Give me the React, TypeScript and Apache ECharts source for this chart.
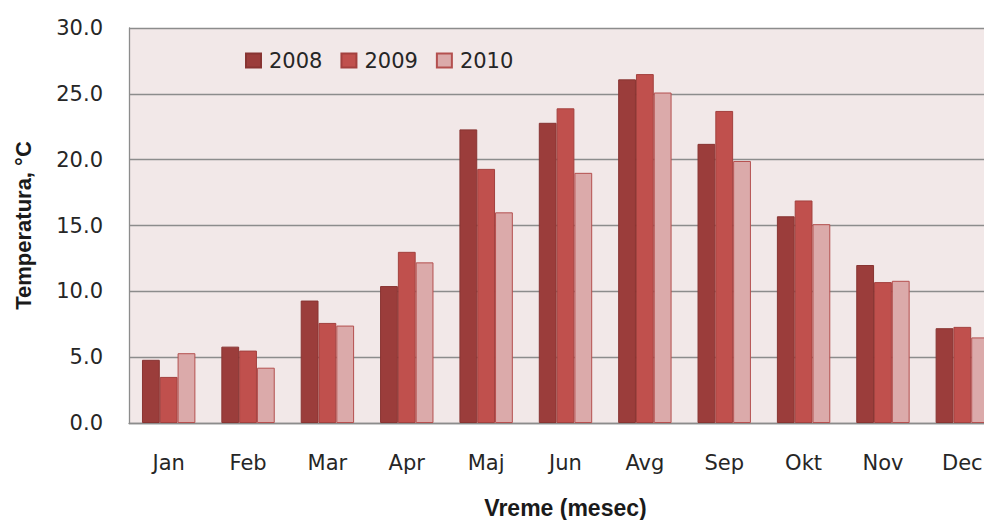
import React, { useEffect, useRef } from "react";
import * as echarts from "echarts";

const months = ["Jan", "Feb", "Mar", "Apr", "Maj", "Jun", "Avg", "Sep", "Okt", "Nov", "Dec"];
const s2008 = [4.8, 5.8, 9.3, 10.4, 22.3, 22.8, 26.1, 21.2, 15.7, 12.0, 7.2];
const s2009 = [3.5, 5.5, 7.6, 13.0, 19.3, 23.9, 26.5, 23.7, 16.9, 10.7, 7.3];
const s2010 = [5.3, 4.2, 7.4, 12.2, 16.0, 19.0, 25.1, 19.9, 15.1, 10.8, 6.5];
const seriesNames = ["2008", "2009", "2010"];
const yTicks = { min: 0, max: 30, interval: 5 };

export default function App() {
  const ref = useRef<HTMLDivElement>(null);
  useEffect(() => {
    document.body.style.margin = "0";
    const chart = echarts.init(ref.current!, null, { renderer: "svg" });
    const fills = ["#9b3d3b", "#c0504d", "#dbaaaa"];
    const borders = ["#883432", "#a3403e", "#b4504f"];
    const data = [s2008, s2009, s2010];
    chart.setOption({
      animation: false,
      backgroundColor: "#ffffff",
      grid: {
        show: true,
        left: 129,
        top: 28,
        width: 873,
        height: 395,
        containLabel: false,
        outerBoundsMode: "none",
        backgroundColor: "#f2e8e8",
        borderWidth: 0,
      },
      legend: {
        left: 245,
        top: 50,
        padding: 0,
        itemWidth: 15,
        itemHeight: 14,
        itemGap: 18,
        icon: "rect",
        textStyle: { fontFamily: "DejaVu Sans", fontSize: 21, color: "#262626", padding: [0, 0, 0, 3] },
        data: seriesNames,
      },
      xAxis: {
        type: "category",
        data: months,
        name: "Vreme (mesec)",
        nameLocation: "middle",
        nameGap: 73,
        nameTextStyle: { fontFamily: "Liberation Sans", fontWeight: "bold", fontSize: 23, color: "#1a1a1a" },
        axisLine: { show: true, lineStyle: { color: "#8c8c8c", width: 1.3 } },
        axisTick: { show: false },
        axisLabel: { margin: 29, fontFamily: "DejaVu Sans", fontSize: 21, color: "#262626" },
        splitLine: { show: false },
      },
      yAxis: {
        type: "value",
        min: yTicks.min,
        max: yTicks.max,
        interval: yTicks.interval,
        name: "Temperatura, °C",
        nameLocation: "middle",
        nameGap: 95,
        nameRotate: 90,
        nameTextStyle: { fontFamily: "Liberation Sans", fontWeight: "bold", fontSize: 22, color: "#1a1a1a" },
        axisLine: { show: true, lineStyle: { color: "#8c8c8c", width: 1.3 } },
        axisTick: { show: false },
        axisLabel: {
          margin: 26,
          fontFamily: "DejaVu Sans",
          fontSize: 21,
          color: "#262626",
          formatter: (v: number) => v.toFixed(1),
        },
        splitLine: { show: true, lineStyle: { color: "#8c8c8c", width: 1.3 } },
      },
      series: seriesNames.map((name, i) => ({
        name,
        type: "bar",
        data: data[i],
        barWidth: 17.8,
        barGap: "0%",
        itemStyle: { color: fills[i], borderColor: borders[i], borderWidth: 1 },
      })),
    });
    return () => chart.dispose();
  }, []);
  return <div ref={ref} style={{ position: "fixed", left: 0, top: 0, width: 984, height: 520 }} />;
}
